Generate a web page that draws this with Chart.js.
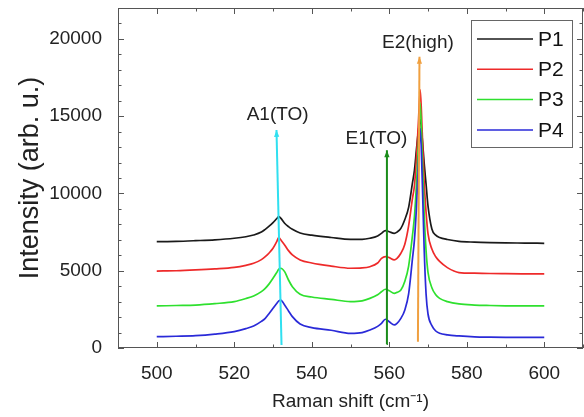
<!DOCTYPE html>
<html>
<head>
<meta charset="utf-8">
<script src="https://cdn.jsdelivr.net/npm/chart.js@4"></script>
<style>
  html, body { margin: 0; padding: 0; background: #fff; }
  #wrap { width: 584px; height: 417px; }
</style>
</head>
<body>
<div id="wrap"><canvas id="raman" width="584" height="417"></canvas></div>
<script>
// Raman shift (cm-1), denser around the peaks
const ramanShift = [500, 505, 510, 515, 520, 523, 525, 527, 528, 529, 530, 531, 531.5, 532, 533, 534, 535, 537, 540, 545,
    550, 553, 555, 557, 558, 559, 560, 561.3, 562, 563, 564, 565, 566, 566.5, 567, 567.5, 568, 568.5, 569, 569.5,
    570, 571, 572, 573, 575, 578, 582, 586, 590, 595, 600];

const p1 = [6880, 6900, 6945, 7000, 7100, 7200, 7310, 7500, 7680, 7880, 8110, 8380, 8500, 8400, 8070, 7850, 7680, 7440, 7300, 7150,
    7030, 7030, 7100, 7250, 7420, 7600, 7520, 7420, 7500, 7740, 8300, 9100, 10700, 11500, 12800, 14000, 14800, 13600, 12000, 10600,
    9200, 7700, 7300, 7150, 7020, 6900, 6850, 6820, 6800, 6790, 6775];

const p2 = [4980, 5000, 5050, 5120, 5220, 5350, 5480, 5720, 5910, 6150, 6450, 6900, 7160, 7000, 6670, 6300, 6020, 5700, 5500, 5300,
    5160, 5180, 5260, 5500, 5800, 5910, 5850, 5700, 5800, 6130, 6700, 7900, 9700, 10500, 12200, 14500, 16700, 14000, 10800, 8800,
    7400, 6400, 5900, 5600, 5200, 4880, 4840, 4820, 4810, 4800, 4790];

const p3 = [2720, 2750, 2780, 2870, 3000, 3200, 3370, 3650, 3860, 4150, 4510, 4900, 5100, 5160, 4940, 4400, 3970, 3480, 3300, 3150,
    3000, 3050, 3210, 3450, 3640, 3800, 3700, 3540, 3600, 3750, 4300, 5300, 7300, 8500, 10500, 13000, 15850, 12500, 8800, 6300,
    4900, 3900, 3450, 3210, 3000, 2850, 2780, 2750, 2730, 2720, 2720];

const p4 = [730, 760, 800, 900, 1060, 1250, 1420, 1720, 1920, 2230, 2570, 2900, 3050, 3100, 2780, 2400, 2030, 1550, 1320, 1150,
    950, 1000, 1165, 1400, 1600, 1860, 1700, 1490, 1600, 1920, 2450, 3500, 5800, 7000, 9000, 11800, 14200, 11000, 6500, 3500,
    2200, 1450, 1100, 950, 850, 780, 720, 700, 690, 685, 690];

const seriesNames = ['P1', 'P2', 'P3', 'P4'];
const seriesValues = [p1, p2, p3, p4];
const seriesColors = ['#1a1a1a', '#ee2a2a', '#2ee02e', '#2a2ad8'];

// phonon mode markers (arrows from the axis up to the label)
const modeNames = ['A1(TO)', 'E1(TO)', 'E2(high)'];
const modeBaseX = [532.2, 559.3, 567.4];
const modeTipX = [530.9, 559.4, 567.8];
const modeBaseY = [200, 260, 410];
const modeTipY = [14110, 12800, 18850];
const modeLabelX = [531.2, 556.7, 567.4];
const modeLabelY = [15080, 13530, 19720];
const modeColors = ['#30e0f0', '#1a8c1a', '#f0a040'];

const xTickLabels = [500, 520, 540, 560, 580, 600];
const yTickLabels = [0, 5000, 10000, 15000, 20000];

const FONT = "'Liberation Sans', Arial, sans-serif";

const datasets = [];
// arrows first so they are drawn on top
modeNames.forEach((name, i) => {
    datasets.push({
        label: name,
        data: [{ x: modeBaseX[i], y: modeBaseY[i] }, { x: modeTipX[i], y: modeTipY[i] }],
        borderColor: modeColors[i],
        backgroundColor: modeColors[i],
        borderWidth: 2,
        pointRadius: 0,
        order: 0
    });
});
seriesNames.forEach((name, i) => {
    datasets.push({
        label: name,
        data: ramanShift.map((x, k) => ({ x: x, y: seriesValues[i][k] })),
        borderColor: seriesColors[i],
        backgroundColor: seriesColors[i],
        borderWidth: 1.7,
        pointRadius: 0,
        cubicInterpolationMode: 'monotone',
        order: 4 - i
    });
});

// frame with inward ticks on all four sides
const framePlugin = {
    id: 'frame',
    afterDraw(chart) {
        const { ctx, chartArea: a, scales } = chart;
        ctx.save();
        ctx.strokeStyle = '#555';
        ctx.lineWidth = 1;
        ctx.strokeRect(a.left + 0.5, a.top + 0.5, a.right - a.left - 1, a.bottom - a.top - 1);
        ctx.beginPath();
        scales.x.ticks.forEach(t => {
            const px = Math.round(scales.x.getPixelForValue(t.value)) + 0.5;
            const len = xTickLabels.includes(t.value) ? 6 : 3.5;
            ctx.moveTo(px, a.bottom); ctx.lineTo(px, a.bottom - len);
            ctx.moveTo(px, a.top); ctx.lineTo(px, a.top + len);
        });
        scales.y.ticks.forEach(t => {
            const py = Math.round(scales.y.getPixelForValue(t.value)) + 0.5;
            const len = yTickLabels.includes(t.value) ? 6 : 3.5;
            ctx.moveTo(a.left, py); ctx.lineTo(a.left + len, py);
            ctx.moveTo(a.right, py); ctx.lineTo(a.right - len, py);
        });
        ctx.stroke();
        ctx.restore();
    }
};

// arrow heads and mode labels
const modePlugin = {
    id: 'modes',
    afterDatasetsDraw(chart) {
        const { ctx, scales } = chart;
        ctx.save();
        modeNames.forEach((name, i) => {
            const bx = scales.x.getPixelForValue(modeBaseX[i]);
            const by = scales.y.getPixelForValue(modeBaseY[i]);
            const tx = scales.x.getPixelForValue(modeTipX[i]);
            const ty = scales.y.getPixelForValue(modeTipY[i]);
            const ang = Math.atan2(ty - by, tx - bx);
            const len = 7, half = 2.6;
            ctx.fillStyle = modeColors[i];
            ctx.beginPath();
            ctx.moveTo(tx, ty);
            ctx.lineTo(tx - len * Math.cos(ang) + half * Math.sin(ang), ty - len * Math.sin(ang) - half * Math.cos(ang));
            ctx.lineTo(tx - len * Math.cos(ang) - half * Math.sin(ang), ty - len * Math.sin(ang) + half * Math.cos(ang));
            ctx.closePath();
            ctx.fill();

            ctx.fillStyle = '#222';
            ctx.font = '19px ' + FONT;
            ctx.textAlign = 'center';
            ctx.textBaseline = 'middle';
            ctx.fillText(name, scales.x.getPixelForValue(modeLabelX[i]), scales.y.getPixelForValue(modeLabelY[i]));
        });
        ctx.restore();
    }
};

// boxed legend in the upper right corner of the plot
const legendPlugin = {
    id: 'boxLegend',
    afterDraw(chart) {
        const { ctx, chartArea: a } = chart;
        const left = a.right - 112, top = a.top + 12, w = 101, h = 127;
        ctx.save();
        ctx.fillStyle = '#fff';
        ctx.fillRect(left, top, w, h);
        ctx.strokeStyle = '#666';
        ctx.lineWidth = 1;
        ctx.strokeRect(left + 0.5, top + 0.5, w, h);
        ctx.font = '21px ' + FONT;
        ctx.textAlign = 'left';
        ctx.textBaseline = 'middle';
        seriesNames.forEach((name, i) => {
            const y = top + 19 + i * 30.3;
            ctx.strokeStyle = seriesColors[i];
            ctx.lineWidth = 1.5;
            ctx.beginPath();
            ctx.moveTo(left + 6, y);
            ctx.lineTo(left + 62, y);
            ctx.stroke();
            ctx.fillStyle = '#111';
            ctx.fillText(name, left + 67, y + 1);
        });
        ctx.restore();
    }
};

new Chart(document.getElementById('raman'), {
    type: 'line',
    data: { datasets: datasets },
    plugins: [modePlugin, framePlugin, legendPlugin],
    options: {
        responsive: false,
        animation: false,
        layout: { padding: { top: 8, right: 1, left: 0, bottom: 0 } },
        plugins: {
            legend: { display: false },
            tooltip: { enabled: false }
        },
        scales: {
            x: {
                type: 'linear',
                min: 490,
                max: 610,
                afterFit(scale) {
                    scale.height = 69;
                    scale.paddingLeft = 0;
                    scale.paddingRight = 0;
                },
                grid: { display: false },
                border: { display: false },
                ticks: {
                    stepSize: 10,
                    autoSkip: false,
                    maxRotation: 0,
                    padding: 6,
                    color: '#222',
                    font: { family: FONT, size: 19 },
                    callback: v => xTickLabels.includes(v) ? String(v) : ''
                },
                title: {
                    display: true,
                    text: 'Raman shift (cm\u207B\u00B9)',
                    color: '#222',
                    font: { family: FONT, size: 19 },
                    padding: { top: 0, bottom: 4 }
                }
            },
            y: {
                type: 'linear',
                min: 0,
                max: 22000,
                afterFit(scale) {
                    scale.width = 118;
                    scale.paddingTop = 0;
                    scale.paddingBottom = 0;
                },
                grid: { display: false },
                border: { display: false },
                ticks: {
                    stepSize: 1000,
                    autoSkip: false,
                    padding: 8,
                    color: '#222',
                    font: { family: FONT, size: 19 },
                    callback: v => yTickLabels.includes(v) ? String(v) : ''
                },
                title: {
                    display: true,
                    text: 'Intensity (arb. u.)',
                    color: '#222',
                    font: { family: FONT, size: 27 },
                    padding: { top: 14, bottom: 0 }
                }
            }
        }
    }
});
</script>
</body>
</html>
